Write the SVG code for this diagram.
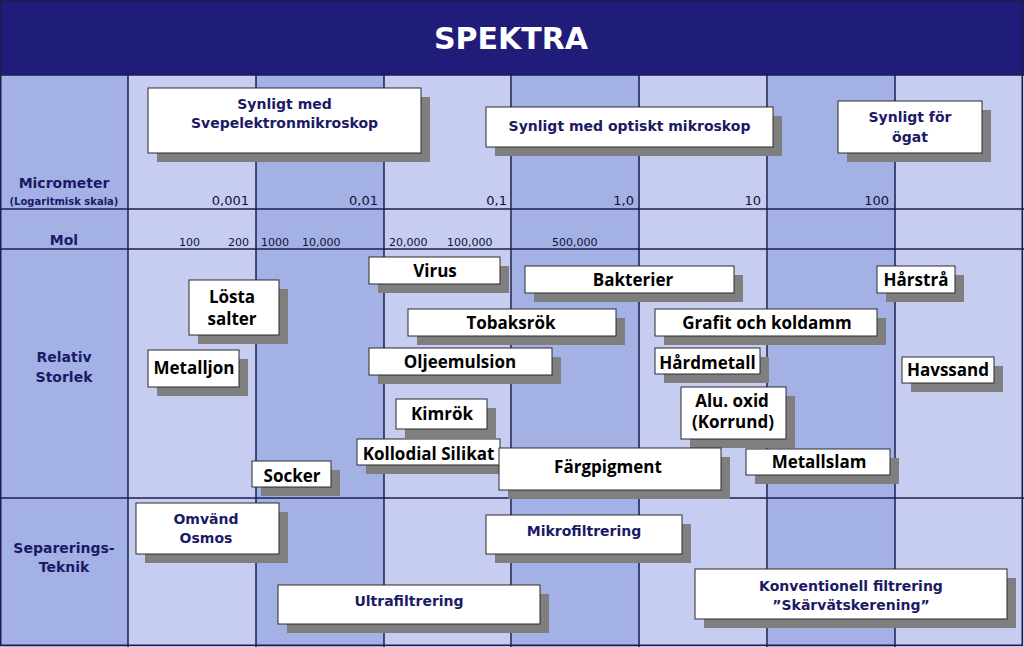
<svg xmlns="http://www.w3.org/2000/svg" width="1024" height="647" viewBox="0 0 1024 647">
<style>
.lt{fill:#c6cdf0}
.md{fill:#a4b1e4}
.grid{stroke:#1c1c4e;stroke-width:1.5;fill:none}
.box{fill:#ffffff;stroke:#2a2a2a;stroke-width:1}
.sh{fill:#7f7f7f}
.nv{font-family:"DejaVu Sans",Verdana,sans-serif;font-weight:bold;fill:#1c1a66;text-anchor:middle}
.bk{font-family:"Open Sans","DejaVu Sans",sans-serif;font-weight:bold;fill:#000000;text-anchor:middle;font-size:17px}
.num{font-family:"DejaVu Sans",Verdana,sans-serif;fill:#111133;font-size:13px;text-anchor:end}
.mol{font-family:"DejaVu Sans",Verdana,sans-serif;fill:#111133;font-size:11px}
</style>
<rect x="0" y="0" width="1024" height="647" fill="#c6cdf0"/>
<g id="columns">
<rect class="md" x="0" y="74" width="128" height="573"/>
<rect class="lt" x="128" y="74" width="128" height="573"/>
<rect class="md" x="256" y="74" width="128" height="573"/>
<rect class="lt" x="384" y="74" width="128" height="573"/>
<rect class="md" x="512" y="74" width="128" height="573"/>
<rect class="lt" x="640" y="74" width="128" height="573"/>
<rect class="md" x="768" y="74" width="127" height="573"/>
<rect class="lt" x="895" y="74" width="127" height="573"/>
</g>
<g id="title">
<rect x="0" y="0" width="1024" height="75" fill="#201c7a"/>
<text x="511" y="49" font-family="DejaVu Sans,Verdana,sans-serif" font-weight="bold" font-size="30" fill="#ffffff" text-anchor="middle">SPEKTRA</text>
</g>
<g id="gridlines" class="grid">
<line x1="0" y1="75" x2="1024" y2="75"/>
<line x1="0" y1="209" x2="1024" y2="209"/>
<line x1="0" y1="249" x2="1024" y2="249"/>
<line x1="0" y1="498" x2="1024" y2="498"/>
<line x1="128" y1="75" x2="128" y2="647"/>
<line x1="256" y1="75" x2="256" y2="647"/>
<line x1="384" y1="75" x2="384" y2="647"/>
<line x1="511" y1="75" x2="511" y2="647"/>
<line x1="639" y1="75" x2="639" y2="647"/>
<line x1="767" y1="75" x2="767" y2="647"/>
<line x1="895" y1="75" x2="895" y2="647"/>
<rect x="0.75" y="0.75" width="1021.5" height="644.5"/>
</g>
<g id="row-labels">
<text class="nv" x="64" y="188" font-size="14">Micrometer</text>
<text class="nv" x="64" y="205" font-size="10">(Logaritmisk skala)</text>
<text class="nv" x="64" y="245" font-size="14">Mol</text>
<text class="nv" x="64" y="362" font-size="14">Relativ</text>
<text class="nv" x="64" y="382" font-size="14">Storlek</text>
<text class="nv" x="64" y="553" font-size="14">Separerings-</text>
<text class="nv" x="64" y="572" font-size="14">Teknik</text>
</g>
<g id="micrometer-scale">
<text class="num" x="249" y="205">0,001</text>
<text class="num" x="378" y="205">0,01</text>
<text class="num" x="507" y="205">0,1</text>
<text class="num" x="634" y="205">1,0</text>
<text class="num" x="761" y="205">10</text>
<text class="num" x="889" y="205">100</text>
</g>
<g id="mol-scale">
<text class="mol" x="179" y="246">100</text>
<text class="mol" x="228" y="246">200</text>
<text class="mol" x="261" y="246">1000</text>
<text class="mol" x="302" y="246">10,000</text>
<text class="mol" x="389" y="246">20,000</text>
<text class="mol" x="447" y="246">100,000</text>
<text class="mol" x="552" y="246">500,000</text>
</g>
<g id="sem">
<rect class="sh" x="157" y="97" width="273" height="65"/>
<rect class="box" x="148" y="88" width="273" height="65"/>
<text class="nv" x="284.5" y="109" font-size="14">Synligt med</text>
<text class="nv" x="284.5" y="128" font-size="14">Svepelektronmikroskop</text>
</g>
<g id="optiskt">
<rect class="sh" x="495" y="116" width="287" height="40"/>
<rect class="box" x="486" y="107" width="287" height="40"/>
<text class="nv" x="629.5" y="131" font-size="14">Synligt med optiskt mikroskop</text>
</g>
<g id="ogat">
<rect class="sh" x="847" y="110" width="144" height="52"/>
<rect class="box" x="838" y="101" width="144" height="52"/>
<text class="nv" x="910" y="122" font-size="14">Synligt för</text>
<text class="nv" x="910" y="142" font-size="14">ögat</text>
</g>
<g id="virus">
<rect class="sh" x="378" y="266" width="131" height="27"/>
<rect class="box" x="369" y="257" width="131" height="27"/>
<text class="bk" x="435" y="277">Virus</text>
</g>
<g id="losta-salter">
<rect class="sh" x="198" y="289" width="90" height="55"/>
<rect class="box" x="189" y="280" width="90" height="55"/>
<text class="bk" x="232" y="303">Lösta</text>
<text class="bk" x="232" y="325">salter</text>
</g>
<g id="tobaksrok">
<rect class="sh" x="417" y="318" width="208" height="27"/>
<rect class="box" x="408" y="309" width="208" height="27"/>
<text class="bk" x="511" y="329">Tobaksrök</text>
</g>
<g id="metalljon">
<rect class="sh" x="157" y="359" width="91" height="37"/>
<rect class="box" x="148" y="350" width="91" height="37"/>
<text class="bk" x="194" y="374">Metalljon</text>
</g>
<g id="oljeemulsion">
<rect class="sh" x="378" y="357" width="183" height="27"/>
<rect class="box" x="369" y="348" width="183" height="27"/>
<text class="bk" x="460" y="368">Oljeemulsion</text>
</g>
<g id="kimrok">
<rect class="sh" x="405" y="408" width="91" height="30"/>
<rect class="box" x="396" y="399" width="91" height="30"/>
<text class="bk" x="442" y="420">Kimrök</text>
</g>
<g id="kollodial-silikat">
<rect class="sh" x="366" y="448" width="143" height="26"/>
<rect class="box" x="357" y="439" width="143" height="26"/>
<text class="bk" x="428.5" y="460" font-size="16.5">Kollodial Silikat</text>
</g>
<g id="socker">
<rect class="sh" x="261" y="470" width="79" height="26"/>
<rect class="box" x="252" y="461" width="79" height="26"/>
<text class="bk" x="292" y="482">Socker</text>
</g>
<g id="bakterier">
<rect class="sh" x="534" y="275" width="209" height="27"/>
<rect class="box" x="525" y="266" width="209" height="27"/>
<text class="bk" x="633" y="286">Bakterier</text>
</g>
<g id="grafit">
<rect class="sh" x="664" y="318" width="222" height="27"/>
<rect class="box" x="655" y="309" width="222" height="27"/>
<text class="bk" x="767" y="329">Grafit och koldamm</text>
</g>
<g id="hardmetall">
<rect class="sh" x="664" y="357" width="105" height="26"/>
<rect class="box" x="655" y="348" width="105" height="26"/>
<text class="bk" x="707.5" y="369" font-size="16">Hårdmetall</text>
</g>
<g id="alu-oxid">
<rect class="sh" x="690" y="396" width="105" height="52"/>
<rect class="box" x="681" y="387" width="105" height="52"/>
<text class="bk" x="732" y="407">Alu. oxid</text>
<text class="bk" x="733" y="428">(Korrund)</text>
</g>
<g id="fargpigment">
<rect class="sh" x="508" y="457" width="222" height="42"/>
<rect class="box" x="499" y="448" width="222" height="42"/>
<text class="bk" x="608" y="473">Färgpigment</text>
</g>
<g id="metallslam">
<rect class="sh" x="755" y="458" width="144" height="26"/>
<rect class="box" x="746" y="449" width="144" height="26"/>
<text class="bk" x="819" y="468">Metallslam</text>
</g>
<g id="harstra">
<rect class="sh" x="886" y="275" width="78" height="27"/>
<rect class="box" x="877" y="266" width="78" height="27"/>
<text class="bk" x="916" y="286">Hårstrå</text>
</g>
<g id="havssand">
<rect class="sh" x="911" y="366" width="92" height="26"/>
<rect class="box" x="902" y="357" width="92" height="26"/>
<text class="bk" x="948" y="376">Havssand</text>
</g>
<g id="omvand-osmos">
<rect class="sh" x="145" y="512" width="143" height="51"/>
<rect class="box" x="136" y="503" width="143" height="51"/>
<text class="nv" x="206" y="524" font-size="14">Omvänd</text>
<text class="nv" x="206" y="543" font-size="14">Osmos</text>
</g>
<g id="ultrafiltrering">
<rect class="sh" x="287" y="594" width="262" height="39"/>
<rect class="box" x="278" y="585" width="262" height="39"/>
<text class="nv" x="409" y="606" font-size="14">Ultrafiltrering</text>
</g>
<g id="mikrofiltrering">
<rect class="sh" x="495" y="524" width="196" height="39"/>
<rect class="box" x="486" y="515" width="196" height="39"/>
<text class="nv" x="584" y="536" font-size="14">Mikrofiltrering</text>
</g>
<g id="konventionell">
<rect class="sh" x="704" y="578" width="312" height="50"/>
<rect class="box" x="695" y="569" width="312" height="50"/>
<text class="nv" x="851" y="591" font-size="14">Konventionell filtrering</text>
<text class="nv" x="851" y="610" font-size="14">”Skärvätskerening”</text>
</g>
</svg>
